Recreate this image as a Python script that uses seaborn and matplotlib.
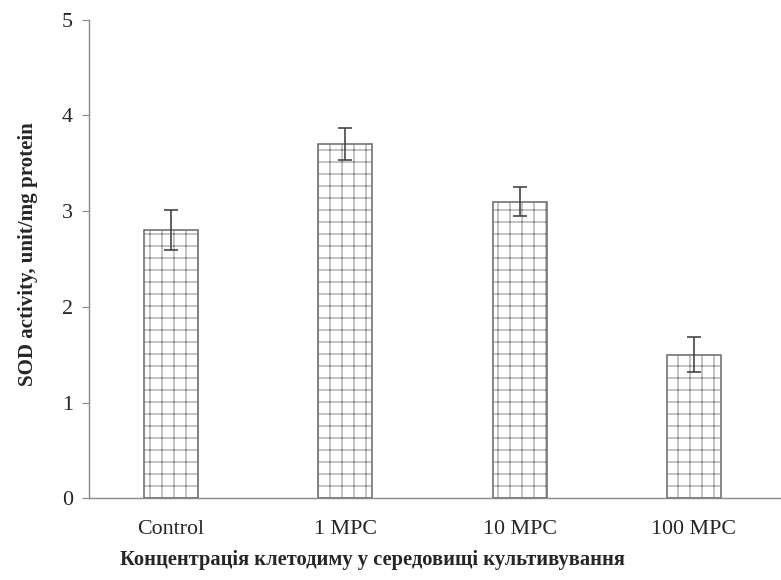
import matplotlib
matplotlib.use("Agg")
import matplotlib.pyplot as plt
import seaborn as sns
import pandas as pd
import numpy as np

categories = ["Control", "1 MPC", "10 MPC", "100 MPC"]
sod_activity = [2.8, 3.7, 3.1, 1.5]
sod_error = [0.21, 0.17, 0.15, 0.18]
y_ticks = [0, 1, 2, 3, 4, 5]

sns.set_theme(style="white")
plt.rcParams["font.family"] = ["Liberation Serif", "DejaVu Serif"]
plt.rcParams["hatch.color"] = "#b3b3b3"
plt.rcParams["hatch.linewidth"] = 0.8

df = pd.DataFrame({"group": categories, "sod": sod_activity})

fig = plt.figure(figsize=(781 / 72, 580 / 72), dpi=72)
ax = fig.add_axes([0.114, 0.141, 0.886, 0.825])

sns.barplot(data=df, x="group", y="sod", order=categories, color="white",
            width=0.31, errorbar=None, ax=ax,
            edgecolor="#6e6e6e", linewidth=1.6)
for patch in ax.patches:
    patch.set_hatch("+")

ax.errorbar(x=np.arange(len(categories)), y=sod_activity, yerr=sod_error,
            fmt="none", ecolor="#404040", elinewidth=1.6, capsize=7,
            capthick=1.6)

ax.set_xlim(-0.47, 3.5)
ax.set_ylim(0, 5)
ax.set_yticks(y_ticks)
ax.set_yticklabels([str(t) for t in y_ticks])

for side in ["top", "right"]:
    ax.spines[side].set_visible(False)
for side in ["left", "bottom"]:
    ax.spines[side].set_color("#8a8a8a")
    ax.spines[side].set_linewidth(1.4)

ax.tick_params(axis="y", direction="out", length=7, width=1.2, color="#8a8a8a",
               labelsize=22, pad=9, left=True)
ax.tick_params(axis="x", length=0, labelsize=22, pad=22)

ax.set_ylabel("SOD activity, unit/mg protein", fontsize=21, fontweight="bold")
ax.yaxis.set_label_coords(-0.088, 0.51)
ax.set_xlabel("Концентрація клетодиму у середовищі культивування",
              fontsize=20.5, fontweight="bold")
ax.xaxis.set_label_coords(0.41, -0.13)
ax.xaxis.label.set_verticalalignment("center")
ax.yaxis.label.set_verticalalignment("center")

fig.savefig("out.png", dpi=72)
